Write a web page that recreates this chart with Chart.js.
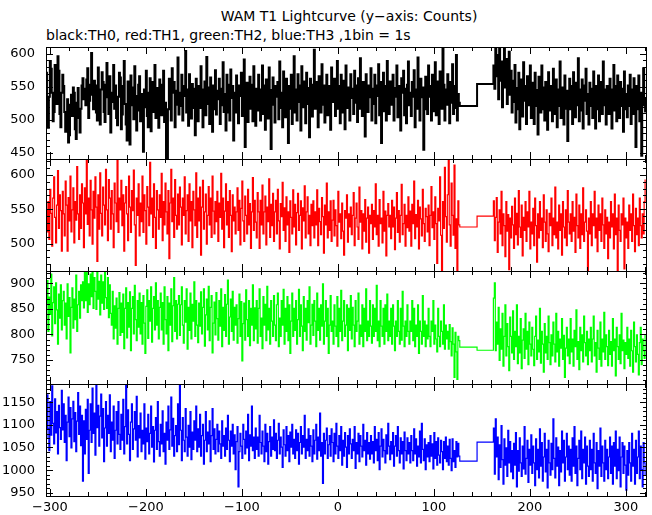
<!DOCTYPE html>
<html lang="en">
<head>
<meta charset="UTF-8">
<title>WAM T1 Lightcurve</title>
<script src="https://cdn.jsdelivr.net/npm/chart.js"></script>
<style>
    body {
        margin: 0;
        background: #ffffff;
        width: 652px;
        height: 515px;
        position: relative;
        overflow: hidden;
        font-family: 'DejaVu Sans', sans-serif;
        color: #000;
    }
    canvas { position: absolute; left: 0; }
    .txt { position: absolute; white-space: nowrap; font-size: 14px; line-height: 14px; }
    #title { left: 349px; top: 9px; transform: translateX(-50%); }
    #subtitle { left: 46px; top: 28px; }
</style>
</head>
<body>
<div id="title" class="txt">WAM T1 Lightcurve (y&#8722;axis: Counts)</div>
<div id="subtitle" class="txt">black:TH0, red:TH1, green:TH2, blue:TH3 ,1bin = 1s</div>
<canvas id="c0" width="652" height="132" style="top:37px"></canvas>
<canvas id="c1" width="652" height="132" style="top:149px"></canvas>
<canvas id="c2" width="652" height="133" style="top:261px"></canvas>
<canvas id="c3" width="652" height="141" style="top:374px"></canvas>
<script>
// time axis (s): 1 s bins before the gap, two long bins across it, 1 s bins after
const xMin = -304, xMax = 322;
const preEnd = 126;
const gapStarts = [127, 145];
const postStart = 162;
const xTicks = [-300, -200, -100, 0, 100, 200, 300];

// TH0 (black)
const th0Pre = [
521,556,571,502,488,535,589,577,541,498,512,583,556,524,596,574,509,489,541,568,
551,512,482,499,531,466,477,523,538,506,549,541,486,471,526,548,503,481,517,552,
563,531,547,522,561,578,503,529,553,601,538,516,559,552,511,499,579,534,493,546,
572,557,512,497,553,586,534,509,566,481,527,541,583,517,552,503,492,535,571,564,
486,508,551,589,524,493,469,558,545,463,567,522,549,501,581,536,484,514,553,566,
498,539,527,452,546,519,574,506,489,541,563,483,522,557,512,583,503,548,518,488,
561,534,507,553,574,497,526,446,441,516,562,548,499,578,541,557,489,544,523,594,
508,541,521,568,499,551,536,604,511,546,491,569,538,502,554,518,547,477,562,534,
498,551,518,581,546,489,534,558,507,595,524,549,494,564,541,482,552,516,575,508,
544,531,562,494,547,522,587,512,539,484,568,553,511,499,576,533,551,469,541,511,
567,523,495,552,536,571,506,543,591,459,524,556,497,539,565,517,553,498,581,536,
491,547,514,568,546,499,534,582,509,552,485,561,533,502,579,545,456,523,564,541,
496,551,535,557,501,588,518,541,489,573,536,504,562,524,465,551,517,568,494,537,
596,511,546,499,569,527,552,484,581,519,539,558,495,571,524,548,474,562,535,505,
553,606,517,557,533,489,566,546,511,584,523,552,496,539,568,507,551,521,485,579,
527,546,562,506,541,589,517,551,495,568,534,511,559,486,582,539,518,549,499,569,
533,547,509,574,526,552,497,563,517,593,541,506,557,523,475,569,546,512,552,534,
578,499,547,524,568,495,552,536,584,507,557,465,541,571,513,551,499,589,535,509,
558,546,523,568,499,548,535,582,504,551,517,484,563,541,574,507,547,495,553,588,
522,541,506,557,535,575,489,546,517,594,537,499,562,534,549,455,516,565,547,509,
582,535,551,499,568,513,546,587,507,539,558,494,573,526,517,618,553,499,546,523,
569,541,495,557,526,584,509,551,518,598,499,539,526];
const th0Gap = [521, 554];
const th0Post = [
582,547,612,566,598,531,621,559,588,519,576,607,549,592,524,563,603,538,574,511,
559,527,583,496,548,516,571,486,543,561,505,587,529,551,494,566,522,544,582,503,
537,556,494,571,521,545,478,565,532,511,582,516,549,499,557,529,485,572,543,514,
551,498,577,533,509,561,489,546,521,588,503,549,531,493,567,517,544,468,538,562,
516,551,494,572,533,504,556,522,593,498,546,514,561,487,552,529,577,509,539,493,
556,521,547,503,573,531,487,551,516,567,498,539,557,509,588,522,546,493,551,528,
509,562,533,487,546,583,514,551,498,567,532,503,557,521,547,482,573,516,539,504,
552,521,568,494,546,509,563,531,459,551,516,567,498,541,446,522,578,533,511];

// TH1 (red)
const th1Pre = [
528,583,549,517,561,506,579,544,496,566,597,538,501,556,606,522,571,548,489,576,
543,511,591,556,489,567,533,598,517,549,581,501,561,534,612,543,506,571,522,587,
559,494,581,543,626,528,566,511,592,549,499,576,537,597,553,474,571,521,603,544,
511,582,556,527,608,549,504,593,566,521,577,543,494,588,559,532,623,516,566,549,
592,526,571,489,559,583,543,504,598,553,516,577,548,607,527,468,566,541,587,511,
559,532,598,516,571,548,499,583,553,526,618,543,566,509,587,538,493,577,549,521,
571,538,602,504,561,527,588,546,514,577,478,559,608,532,566,509,593,541,521,572,
527,582,553,498,566,541,597,514,548,571,503,587,533,561,494,576,549,526,603,509,
566,533,582,483,553,592,521,546,572,499,541,583,527,566,509,598,547,514,561,532,
576,503,559,538,602,521,566,494,547,587,527,561,509,577,541,488,571,533,553,514,
546,581,519,563,498,551,591,533,503,569,541,514,579,527,558,493,546,596,519,563,
531,508,574,546,493,563,527,585,514,546,569,498,553,532,594,509,557,526,573,503,
546,563,514,579,533,492,558,539,589,519,552,503,568,527,546,487,562,538,514,578,
524,557,498,545,573,519,541,562,492,552,533,584,508,546,568,514,541,497,557,526,
562,508,546,527,578,497,551,532,513,567,539,486,556,527,588,508,546,519,562,503,
534,563,511,549,526,496,576,531,543,507,559,518,483,548,537,571,502,543,524,553,
513,541,574,497,537,559,524,506,582,531,548,492,543,518,564,502,537,553,486,541,
529,557,506,548,524,587,513,541,496,564,529,537,501,576,518,547,482,541,558,524,
541,507,563,524,553,491,537,574,516,548,502,541,586,513,529,557,496,541,523,568,
518,547,496,557,529,591,507,542,524,563,492,553,536,511,579,529,503,551,539,517,
556,497,541,583,523,546,506,568,529,471,551,533,597,512,452,561,522,611,539,502,
571,628,527,496,588,541,512,614,493,536,459,562,527];
const th1Gap = [524, 540];
const th1Post = [
562,504,538,567,487,531,549,514,576,497,543,526,481,561,518,542,462,537,508,554,
527,493,566,513,544,498,577,524,509,556,482,538,519,561,503,546,524,576,492,531,
514,551,497,566,526,473,543,508,561,519,537,494,571,531,503,549,514,488,544,526,
566,497,537,513,582,508,531,492,556,519,543,483,561,524,508,549,497,577,531,514,
543,503,561,518,538,487,572,526,508,556,493,543,513,581,503,531,549,518,457,537,
514,561,497,543,526,576,508,537,488,556,519,543,503,566,527,493,549,514,538,478,
531,508,561,524,543,492,572,513,537,458,556,519,503,543,527,566,463,537,508,531,
493,556,519,543,503,572,526,488,551,513,537,497,566,526,508,543,514,561,593];

// TH2 (green)
const th2Pre = [
828,884,861,905,806,873,839,918,797,862,893,821,901,848,781,879,832,897,809,866,
884,818,861,791,899,835,872,764,853,891,812,869,829,916,806,858,884,832,897,866,
903,852,926,866,921,843,899,858,918,874,921,851,911,884,849,921,869,904,838,916,
861,903,849,921,872,851,911,833,897,841,818,884,791,856,812,871,781,851,882,798,
861,804,879,772,851,891,793,862,814,883,768,851,874,801,896,829,788,866,814,881,
801,862,781,876,822,763,855,887,792,866,826,893,785,851,874,809,901,818,866,791,
853,881,809,862,781,893,829,801,874,768,861,818,889,786,856,911,806,866,791,859,
876,798,858,893,818,783,866,824,889,771,853,808,881,791,859,826,903,796,866,818,
784,861,816,883,801,853,889,777,838,869,809,894,788,853,876,764,822,863,799,882,
831,789,866,816,889,776,853,808,878,796,859,906,781,834,869,806,884,789,853,818,
858,783,831,879,796,864,748,821,861,789,887,829,796,866,778,851,818,897,788,852,
811,866,783,851,889,796,832,772,874,818,859,788,894,809,851,781,866,826,796,876,
818,788,858,881,776,832,796,866,818,888,781,851,806,874,788,858,763,826,881,796,
851,808,866,781,829,888,796,858,816,768,874,806,851,789,866,823,893,781,818,859,
798,866,826,776,881,808,851,789,858,816,899,781,826,866,796,851,763,818,876,806,
826,781,858,816,796,874,776,851,806,886,788,826,866,796,818,858,768,851,808,876,
791,853,818,776,866,806,826,881,781,818,796,858,776,851,806,889,788,826,796,866,
816,783,858,796,851,806,896,788,826,776,866,816,796,851,781,858,806,879,788,826,
796,851,781,858,816,768,826,796,866,806,781,851,789,884,816,776,826,796,858,806,
781,826,806,866,788,851,776,818,796,858,763,826,806,781,876,796,826,776,818,791,
851,796,776,826,806,866,781,818,791,766,851,796,776,826,806,781,858,771,818,791,
806,771,819,786,758,813,781,716,804,766,712,796,788];
const th2Gap = [775, 769];
const th2Post = [
871,901,768,824,781,853,749,811,771,841,738,796,858,758,821,776,729,834,796,764,
846,751,806,776,858,743,796,764,831,733,789,811,753,841,771,806,741,824,781,758,
814,771,739,796,836,751,789,766,851,744,806,781,726,821,764,796,751,836,784,741,
799,758,824,781,746,841,766,806,738,791,773,831,751,798,716,773,814,758,791,743,
831,766,791,738,808,776,848,751,786,731,814,768,799,746,836,784,758,806,741,791,
768,814,746,791,836,758,784,726,808,773,751,824,738,791,766,843,751,799,776,739,
808,761,786,738,831,768,791,719,814,776,751,799,743,841,768,789,733,784,761,814,
753,791,738,808,768,726,824,776,746,799,761,721,784,814,741,791,768,753,799];

// TH3 (blue)
const th3Pre = [
1049,1138,1071,1166,1092,1043,1151,1077,1186,1103,1058,1157,1082,1129,1036,1143,1094,1068,1176,1089,
1146,1061,1121,1021,1106,1161,1074,1138,1049,1113,1152,1063,1127,1041,1108,1171,1079,1141,1054,1121,
976,1109,1036,1134,1068,1156,993,1088,1146,1061,1181,1081,1126,1033,1192,1094,1143,1053,1119,1168,
1071,1136,1019,1093,1151,1053,1121,1081,1166,1041,1106,1066,1141,1026,1088,1129,1058,1151,1079,1046,
1123,1066,1156,1036,1096,1192,1058,1133,1079,1021,1106,1146,1046,1091,1129,1066,1163,1029,1098,1071,
1126,1041,1088,1058,1146,1024,1093,1063,1123,1036,1081,1141,1051,1096,1018,1088,1116,1046,1151,1063,
1031,1101,1058,1131,1041,1081,1013,1106,1066,1141,1046,1089,1161,1053,1114,1031,1076,1098,1041,1146,
1056,1188,1088,1021,1116,1066,1041,1136,1073,1031,1099,1051,1129,1023,1084,1046,1109,1066,1141,1041,
1091,1051,1123,1031,1076,1101,1013,1066,1129,1041,1084,1058,1109,1019,1076,1136,1046,1091,1036,1068,
1101,1041,1086,1058,1026,1109,1053,1076,1031,1093,1046,1121,1066,1019,1086,1053,1101,1036,1078,1001,
1063,1096,963,1041,1081,1053,1026,1101,1068,1036,1086,1049,1123,1021,1078,1053,1141,1043,1073,1026,
1093,1046,1073,1031,1121,1061,1036,1086,1053,1019,1101,1041,1081,1013,1063,1096,1031,1073,1046,1111,
1043,1081,1026,1066,1103,1036,1073,1051,1006,1089,1056,1031,1096,1043,1076,1019,1084,1051,1101,1036,
1068,1026,1089,1043,1081,1013,1061,1096,1036,1076,1051,1121,1026,1068,1043,1091,1031,1076,1053,1019,
1089,1036,1066,1101,1024,1073,1043,1126,1031,1061,971,1081,1036,1066,1093,1026,1056,1076,1031,1091,
1061,1019,1081,1036,1103,1053,1026,1076,1043,1096,1011,1066,1031,1083,1051,1006,1076,1036,1091,1058,
1026,1068,1043,1096,1004,1061,1036,1081,1019,1076,1053,1029,1101,1043,1066,1011,1083,1036,1061,1024,
1076,1036,1063,1016,1096,1043,1068,1021,1083,1001,1053,1091,1029,1068,1043,1016,1078,1036,1103,1053,
1023,1063,1036,1083,1009,1053,1076,1031,1096,1043,1016,1071,1036,1063,1003,1084,1043,1021,1071,1036,
1061,1016,1076,1043,1021,1091,1036,1069,1009,1053,1029,1086,1016,1103,1046,1021,1069,1001,1056,1029,
1061,1019,1076,1031,1058,1003,1083,1026,1063,1011,1071,1033,1016,1066,1041,1001,1063,1026,1073,1019,
1053,1011,1068,1026,999,1069,1019,1043,1006,1063,1029,1059,1031];
const th3Gap = [1020, 1062];
const th3Post = [
1093,991,1113,1029,1073,979,1056,1006,1098,1023,969,1069,1011,1049,986,1088,1016,1063,996,1043,
981,1059,1011,1083,963,1043,998,1071,1016,986,1053,1003,1096,991,1026,1066,973,1046,1011,1078,
993,1053,1016,966,1069,1001,1046,983,1091,1009,1061,976,1029,1081,996,1046,961,1066,1016,989,
1059,1001,1113,1026,983,1071,1009,1051,966,1043,996,1086,1016,1066,976,1029,1081,1001,1053,989,
1046,976,1071,1009,1096,993,1053,966,1026,1066,1001,1086,981,1046,1016,1073,969,1053,1009,986,
1066,1001,1046,976,1081,1016,993,1061,959,1043,1009,1093,986,1053,1016,976,1066,1001,1046,981,
1029,1073,993,1053,969,1061,1009,1086,981,1046,999,1073,963,1029,1061,993,1053,1011,956,1043,
989,1061,1016,976,1081,1009,1046,969,1066,993,1029,1086,981,1053,1001,963,1061,1016,989];

// y ranges of the four panels
const yRanges = [[441, 610], [460, 623], [703, 924], [943, 1190]];
const yStep = [50, 50, 50, 50];
const colors = ['#000000', '#ff0000', '#00ff00', '#0000ff'];
const lineWidths = [2, 1.2, 1.2, 1.2];

function buildPoints(pre, gap, post) {
    const pts = [];
    pre.forEach((v, i) => pts.push({ x: preEnd - (pre.length - 1 - i), y: v }));
    gap.forEach((v, i) => pts.push({ x: gapStarts[i], y: v }));
    post.forEach((v, i) => pts.push({ x: postStart + i, y: v }));
    return pts;
}

const series = [
    buildPoints(th0Pre, th0Gap, th0Post),
    buildPoints(th1Pre, th1Gap, th1Post),
    buildPoints(th2Pre, th2Gap, th2Post),
    buildPoints(th3Pre, th3Gap, th3Post)
];

const fmt = v => (v < 0 ? '\u2212' + Math.abs(v) : '' + v);

// frame plus inward ticks on all four sides
const framePlugin = {
    id: 'frame',
    afterDraw(chart) {
        const { ctx, chartArea: a, scales } = chart;
        const xs = scales.x, ys = scales.y;
        ctx.save();
        ctx.strokeStyle = '#000';
        ctx.lineWidth = 1;
        ctx.strokeRect(a.left + 0.5, a.top + 0.5, a.right - a.left - 1, a.bottom - a.top);
        ctx.beginPath();
        for (let v = Math.ceil(xs.min / 20) * 20; v <= xs.max; v += 20) {
            const px = Math.round(xs.getPixelForValue(v)) + 0.5;
            const len = v % 100 === 0 ? 7 : 4;
            ctx.moveTo(px, a.top); ctx.lineTo(px, a.top + len);
            ctx.moveTo(px, a.bottom); ctx.lineTo(px, a.bottom - len);
        }
        for (let v = Math.ceil(ys.min / 10) * 10; v <= ys.max; v += 10) {
            const py = Math.round(ys.getPixelForValue(v)) + 0.5;
            const len = v % 50 === 0 ? 7 : 4;
            ctx.moveTo(a.left, py); ctx.lineTo(a.left + len, py);
            ctx.moveTo(a.right, py); ctx.lineTo(a.right - len, py);
        }
        ctx.stroke();
        ctx.restore();
    }
};

series.forEach((pts, k) => {
    const last = k === series.length - 1;
    new Chart(document.getElementById('c' + k), {
        type: 'line',
        data: {
            datasets: [{
                data: pts,
                borderColor: colors[k],
                borderWidth: lineWidths[k],
                pointRadius: 0,
                stepped: true,
                tension: 0,
                fill: false,
                clip: 0
            }]
        },
        options: {
            responsive: false,
            animation: false,
            events: [],
            layout: { padding: { top: 10, bottom: last ? 0 : 10, left: 0, right: 5 } },
            plugins: { legend: { display: false }, tooltip: { enabled: false } },
            scales: {
                x: {
                    type: 'linear',
                    min: xMin,
                    max: xMax,
                    display: last,
                    grid: { display: false, drawTicks: false },
                    border: { display: false },
                    afterBuildTicks: s => { s.ticks = xTicks.map(v => ({ value: v })); },
                    afterFit: s => {
                        s.height = last ? 19 : 0;
                        s.paddingLeft = 0; s.paddingRight = 0;
                    },
                    ticks: {
                        autoSkip: false,
                        maxRotation: 0,
                        padding: 4,
                        color: '#000',
                        font: { family: 'DejaVu Sans', size: 13 },
                        callback: v => fmt(v)
                    }
                },
                y: {
                    type: 'linear',
                    min: yRanges[k][0],
                    max: yRanges[k][1],
                    grid: { display: false, drawTicks: false },
                    border: { display: false },
                    afterFit: s => { s.width = 46; s.paddingTop = 0; s.paddingBottom = 0; },
                    ticks: {
                        stepSize: yStep[k],
                        includeBounds: false,
                        padding: 11,
                        color: '#000',
                        font: { family: 'DejaVu Sans', size: 13 },
                        callback: v => (v % 50 === 0 ? fmt(v) : null)
                    }
                }
            }
        },
        plugins: [framePlugin]
    });
});
</script>
</body>
</html>
